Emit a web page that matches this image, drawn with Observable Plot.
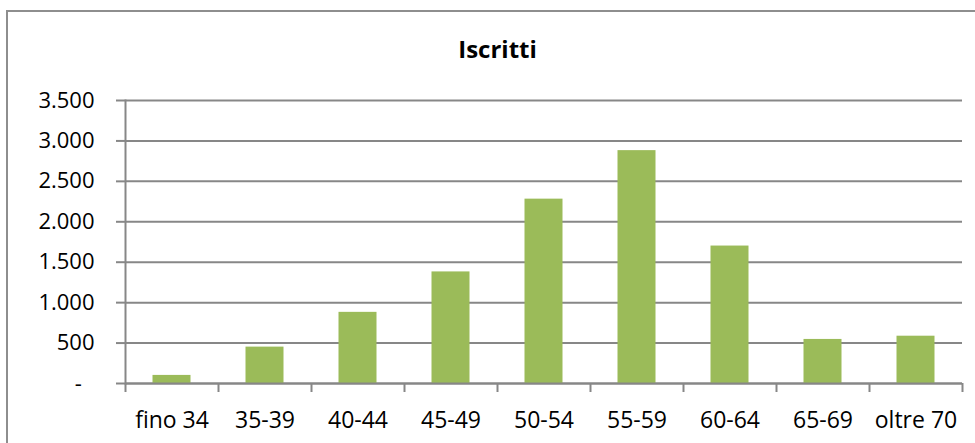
<!DOCTYPE html>
<html>
<head>
<meta charset="utf-8">
<script src="https://cdn.jsdelivr.net/npm/d3@7"></script>
<script src="https://cdn.jsdelivr.net/npm/@observablehq/plot@0.6"></script>
<style>
  html, body { margin: 0; padding: 0; background: #fff; overflow: hidden; width: 975px; height: 443px; }
  #wrap { position: relative; width: 975px; height: 443px; }
  #border { position: absolute; left: 6px; top: 10px; width: 1200px; height: 1200px; border: 2px solid #8e8e8e; box-sizing: border-box; }
  #title { position: absolute; left: 0; width: 995px; top: 32px; text-align: center; font-family: "Open Sans", sans-serif; font-weight: bold; font-size: 24px; color: #000; }
  #chart { position: absolute; left: 0; top: 0; }
</style>
</head>
<body>
<div id="wrap">
  <div id="border"></div>
  <div id="title">Iscritti</div>
  <div id="chart"></div>
</div>
<script>
const categories = ["fino 34", "35-39", "40-44", "45-49", "50-54", "55-59", "60-64", "65-69", "oltre 70"];
const values = [100, 450, 880, 1380, 2280, 2880, 1700, 545, 585];
const yTicks = [0, 500, 1000, 1500, 2000, 2500, 3000, 3500];

const data = categories.map((c, i) => ({c, v: values[i], i}));
const itFormat = d3.formatLocale({decimal: ",", thousands: ".", grouping: [3], currency: ["", "€"]}).format(",d");
const gray = "#878787";

const chart = Plot.plot({
  width: 975,
  height: 443,
  marginLeft: 125,
  marginRight: 13,
  marginTop: 100,
  marginBottom: 60,
  style: {fontFamily: "'Open Sans', sans-serif", fontSize: "22px", color: "#000", background: "transparent"},
  x: {type: "linear", domain: [0, categories.length]},
  y: {domain: [0, 3500]},
  marks: [
    Plot.gridY(yTicks, {stroke: gray, strokeOpacity: 1, strokeWidth: 2}),
    Plot.axisY(yTicks, {
      tickSize: 9, tickPadding: 22, stroke: gray, strokeWidth: 2,
      tickFormat: d => d === 0 ? "-\u2007" : itFormat(d),
      fill: "#000", fontSize: 22, label: null
    }),
    Plot.rectY(data, {x1: d => d.i, x2: d => d.i + 1, y: "v", insetLeft: 27.5, insetRight: 27.5, fill: "#9bbb59"}),
    Plot.ruleY([0], {stroke: gray, strokeWidth: 2}),
    Plot.axisX(d3.range(categories.length + 1), {
      tickSize: 9, stroke: gray, strokeWidth: 2, tickFormat: () => "", label: null
    }),
    Plot.axisX(data.map(d => d.i + 0.5), {
      tickSize: 0, tickPadding: 28, tickFormat: v => categories[Math.floor(v)],
      fill: "#000", fontSize: 23, label: null
    }),
    Plot.frame({anchor: "left", stroke: gray, strokeWidth: 2})
  ]
});
document.getElementById("chart").appendChild(chart);
</script>
</body>
</html>
